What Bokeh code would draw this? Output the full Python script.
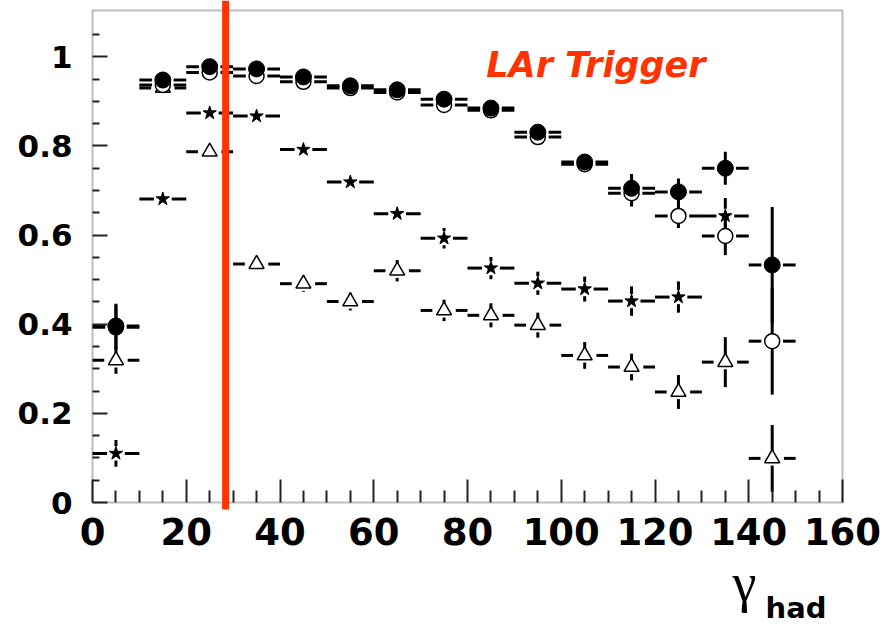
from bokeh.plotting import figure
from bokeh.models import (Range1d, FixedTicker, Label, Arrow, CustomJSTickFormatter,
                          LinearAxis, BoxAnnotation)
from bokeh.embed import file_html
from bokeh.resources import INLINE

# ---------------- data ----------------
bin_centers = [5, 15, 25, 35, 45, 55, 65, 75, 85, 95, 105, 115, 125, 135, 145]
bin_half_width = 5

filled_circle_eff = [0.396, 0.948, 0.978, 0.973, 0.955, 0.935, 0.926, 0.905, 0.885, 0.831, 0.764, 0.705, 0.697, 0.750, 0.533]
filled_circle_err = [0.050, 0.010, 0.008, 0.008, 0.008, 0.008, 0.008, 0.010, 0.010, 0.012, 0.015, 0.032, 0.030, 0.037, 0.130]

open_circle_eff = [0.393, 0.937, 0.965, 0.957, 0.944, 0.930, 0.920, 0.892, 0.880, 0.820, 0.759, 0.694, 0.643, 0.598, 0.362]
open_circle_err = [0.050, 0.010, 0.008, 0.008, 0.008, 0.008, 0.008, 0.010, 0.010, 0.012, 0.015, 0.030, 0.027, 0.043, 0.120]

star_eff = [0.110, 0.681, 0.874, 0.867, 0.792, 0.719, 0.648, 0.593, 0.526, 0.492, 0.479, 0.452, 0.461, 0.643, None]
star_err = [0.030, 0.008, 0.008, 0.008, 0.010, 0.010, 0.012, 0.023, 0.025, 0.026, 0.028, 0.033, 0.035, 0.040, None]

triangle_eff = [0.319, 0.930, 0.787, 0.535, 0.491, 0.451, 0.520, 0.431, 0.420, 0.398, 0.330, 0.304, 0.248, 0.315, 0.099]
triangle_err = [0.030, 0.008, 0.010, 0.010, 0.018, 0.020, 0.024, 0.024, 0.027, 0.028, 0.030, 0.030, 0.038, 0.056, 0.075]

x_min, x_max = 0, 160
y_min, y_max = 0, 1.104
x_major_ticks = [0, 20, 40, 60, 80, 100, 120, 140, 160]
x_minor_ticks = [5, 10, 15, 25, 30, 35, 45, 50, 55, 65, 70, 75, 85, 90, 95,
                 105, 110, 115, 125, 130, 135, 145, 150, 155]
y_major_ticks = [0, 0.2, 0.4, 0.6, 0.8, 1.0]
y_minor_ticks = [0.05, 0.1, 0.15, 0.25, 0.3, 0.35, 0.45, 0.5, 0.55, 0.65, 0.7, 0.75,
                 0.85, 0.9, 0.95, 1.05]

cut_value = 28.4
title_text = "LAr Trigger"
x_label_main = "\u03b3"
x_label_sub = "had"

# ---------------- figure ----------------
# The bokeh frame covers the whole canvas; the visible plot box is drawn as an
# annotation so that axis texts placed outside the box are never clipped.
W, H = 884, 625
box_left, box_right, box_top, box_bottom = 92, 842, 10, 502   # pixels
sx = (box_right - box_left) / (x_max - x_min)
sy = (box_bottom - box_top) / (y_max - y_min)
xr = Range1d(x_min - box_left / sx, x_max + (W - box_right) / sx)
yr = Range1d(y_min - (H - box_bottom) / sy, y_max + box_top / sy)

p = figure(width=W, height=H, x_range=xr, y_range=yr,
           output_backend="svg", toolbar_location=None,
           x_axis_location=None, y_axis_location=None,
           min_border_left=0, min_border_right=0, min_border_top=0, min_border_bottom=0)
p.grid.visible = False
p.outline_line_color = None
p.background_fill_color = "white"
p.border_fill_color = "white"

p.add_layout(BoxAnnotation(left=x_min, right=x_max, bottom=y_min, top=y_max,
                           fill_alpha=0, line_color="#222222", line_width=2, level="overlay"))


def style_axis(ax, major_in, minor_in, size, standoff):
    ax.major_tick_in = major_in
    ax.major_tick_out = 0
    ax.minor_tick_in = minor_in
    ax.minor_tick_out = 0
    ax.major_tick_line_width = 2
    ax.minor_tick_line_width = 2
    ax.axis_line_color = None
    ax.major_tick_line_color = "#222222"
    ax.minor_tick_line_color = "#222222"
    ax.major_label_text_font = "DejaVu Sans"
    ax.major_label_text_font_style = "bold"
    ax.major_label_text_font_size = size
    ax.major_label_text_color = "black"
    ax.major_label_standoff = standoff


xa = LinearAxis(fixed_location=y_min, ticker=FixedTicker(ticks=x_major_ticks, minor_ticks=x_minor_ticks))
style_axis(xa, 23, 12, "37px", 15)
p.add_layout(xa, "below")

ya = LinearAxis(fixed_location=x_min, ticker=FixedTicker(ticks=y_major_ticks, minor_ticks=y_minor_ticks))
ya.formatter = CustomJSTickFormatter(code="return tick.toFixed(1).replace(/\\.0$/, '');")
style_axis(ya, 15, 7, "31px", 20)
p.add_layout(ya, "left")


def draw_errors(xs, ys, errs, xgap, ygap, lw):
    hx0, hx1, hy = [], [], []
    vx, vy0, vy1 = [], [], []
    for x, y, e in zip(xs, ys, errs):
        if y is None:
            continue
        hx0 += [x - bin_half_width, x + xgap]
        hx1 += [x - xgap, x + bin_half_width]
        hy += [y, y]
        if e > ygap:
            vx += [x, x]
            vy0 += [y + ygap, y - e]
            vy1 += [y + e, y - ygap]
    p.segment(x0=hx0, y0=hy, x1=hx1, y1=hy, line_color="black", line_width=lw, line_cap="butt")
    if vx:
        p.segment(x0=vx, y0=vy0, x1=vx, y1=vy1, line_color="black", line_width=lw, line_cap="butt")


def draw_markers(xs, ys, marker, size, fill, lw):
    px = [x for x, y in zip(xs, ys) if y is not None]
    py = [y for y in ys if y is not None]
    p.scatter(px, py, marker=marker, size=size, fill_color=fill, line_color="black", line_width=lw)


draw_errors(bin_centers, triangle_eff, triangle_err, 2.5, 0.016, 3)
draw_errors(bin_centers, open_circle_eff, open_circle_err, 2.3, 0.016, 3)
draw_errors(bin_centers, star_eff, star_err, 1.9, 0.016, 3)
draw_errors(bin_centers, filled_circle_eff, filled_circle_err, 2.3, 0.016, 3)

draw_markers(bin_centers, triangle_eff, "triangle", 15, "white", 1.5)
draw_markers(bin_centers, open_circle_eff, "circle", 15, "white", 1.5)
draw_markers(bin_centers, star_eff, "star", 14, "black", 1)
draw_markers(bin_centers, filled_circle_eff, "circle", 16, "black", 1)

p.add_layout(Arrow(end=None, x_start=cut_value, y_start=y_min - 7 / sy, x_end=cut_value,
                   y_end=yr.end, line_color="#ff3300", line_width=7, level="overlay"))

p.add_layout(Label(x=84.0, y=0.982, text=title_text, text_font="DejaVu Sans",
                   text_font_style="bold italic", text_font_size="35px", text_color="#ff3300",
                   text_baseline="alphabetic"))
p.add_layout(Label(x=732, y=582, x_units="canvas", y_units="canvas", text=x_label_main,
                   text_font="Liberation Serif", text_font_size="54px", text_color="black",
                   text_baseline="alphabetic"))
p.add_layout(Label(x=765, y=607, x_units="canvas", y_units="canvas", text=x_label_sub,
                   text_font="DejaVu Sans", text_font_style="bold", text_font_size="29px",
                   text_color="black", text_baseline="alphabetic"))

open("out.html", "w").write(file_html(p, INLINE))
